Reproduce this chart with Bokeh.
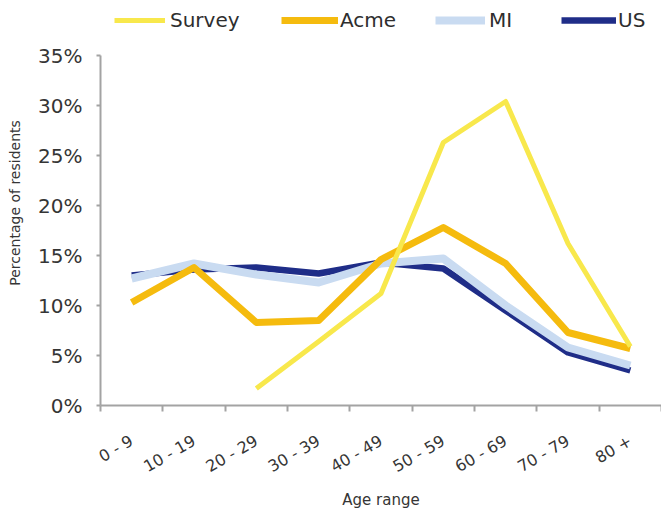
import math

from bokeh.embed import file_html
from bokeh.models import (FixedTicker, Legend, LegendItem, PrintfTickFormatter,
                          Range1d)
from bokeh.plotting import figure
from bokeh.resources import INLINE

# Share of residents (%) in each age band
ages = ["0 - 9", "10 - 19", "20 - 29", "30 - 39", "40 - 49",
        "50 - 59", "60 - 69", "70 - 79", "80 +"]
nan = float("nan")
survey = [nan, nan, 1.7, 6.4, 11.2, 26.3, 30.4, 16.2, 5.9]
acme = [10.3, 13.8, 8.3, 8.5, 14.6, 17.8, 14.2, 7.3, 5.7]
mi = [12.7, 14.2, 13.1, 12.3, 14.2, 14.7, 10.0, 5.8, 4.0]
us = [13.0, 13.6, 13.8, 13.2, 14.3, 13.7, 9.5, 5.3, 3.5]
y_ticks = [0, 5, 10, 15, 20, 25, 30, 35]

FONT = "DejaVu Sans"
TEXT = "#353535"
AXIS = "#a3a3a3"

# categories sit at band centres; band edges carry the tick marks
centers = [i + 0.5 for i in range(len(ages))]
edges = [float(i) for i in range(len(ages) + 1)]

# the plot area runs to the top of the canvas so the legend row fits inside it;
# the value axis itself stops at 35%
p = figure(width=661, height=512, output_backend="svg", toolbar_location=None,
           x_range=Range1d(0, len(ages)), y_range=Range1d(0, 40.5),
           min_border_left=100, min_border_right=0,
           min_border_top=0, min_border_bottom=107)
p.outline_line_color = None
p.xgrid.grid_line_color = None
p.ygrid.grid_line_color = None
p.background_fill_color = "white"
p.border_fill_color = "white"

r_us = p.line(centers, us, line_color="#1f2d88", line_width=6.5, line_join="round")
r_mi = p.line(centers, mi, line_color="#c9dbf1", line_width=8, line_join="round")
r_acme = p.line(centers, acme, line_color="#f5bb0e", line_width=7, line_join="round")
r_survey = p.line(centers, survey, line_color="#f8e84c", line_width=5, line_join="round")

# x axis
xa = p.xaxis[0]
xa.ticker = FixedTicker(ticks=centers, minor_ticks=edges)
xa.major_label_overrides = {c: lab for c, lab in zip(centers, ages)}
xa.major_tick_in = 0
xa.major_tick_out = 0
xa.minor_tick_in = 0
xa.minor_tick_out = 6
xa.minor_tick_line_color = AXIS
xa.minor_tick_line_width = 2
xa.axis_line_color = AXIS
xa.axis_line_width = 2
xa.major_label_orientation = math.pi / 6
xa.major_label_standoff = 28
xa.major_label_text_font = FONT
xa.major_label_text_font_size = "16px"
xa.major_label_text_color = TEXT
xa.axis_label = "Age range"
xa.axis_label_text_font = FONT
xa.axis_label_text_font_style = "normal"
xa.axis_label_text_font_size = "15px"
xa.axis_label_text_color = TEXT
xa.axis_label_standoff = 4

# y axis
ya = p.yaxis[0]
ya.bounds = (0, 35)
ya.ticker = FixedTicker(ticks=y_ticks)
ya.formatter = PrintfTickFormatter(format="%d%%")
ya.major_tick_in = 0
ya.major_tick_out = 4
ya.minor_tick_out = 0
ya.minor_tick_in = 0
ya.major_tick_line_color = AXIS
ya.major_tick_line_width = 2
ya.axis_line_color = AXIS
ya.axis_line_width = 2
ya.major_label_standoff = 14
ya.major_label_text_font = FONT
ya.major_label_text_font_size = "20px"
ya.major_label_text_color = TEXT
ya.axis_label = "Percentage of residents"
ya.axis_label_text_font = FONT
ya.axis_label_text_font_style = "normal"
ya.axis_label_text_font_size = "14px"
ya.axis_label_text_color = TEXT
ya.axis_label_standoff = 12

# one single-item legend per series, laid out in a row across the top
legend_specs = [
    ("Survey", r_survey, 14, 51, 5),
    ("Acme", r_acme, 181, 57, 2),
    ("MI", r_mi, 335, 50, 4),
    ("US", r_us, 461, 55, 2),
]
for label, rend, x0, gw, standoff in legend_specs:
    leg = Legend(items=[LegendItem(label=label, renderers=[rend])],
                 location=(x0, 373), orientation="horizontal",
                 padding=0, margin=0, spacing=0,
                 glyph_width=gw, glyph_height=24, label_height=24,
                 label_standoff=standoff,
                 label_text_font=FONT, label_text_font_size="20px",
                 label_text_color="#2e2e2e",
                 background_fill_alpha=0, border_line_alpha=0)
    p.add_layout(leg)

open("out.html", "w").write(file_html(p, INLINE))
